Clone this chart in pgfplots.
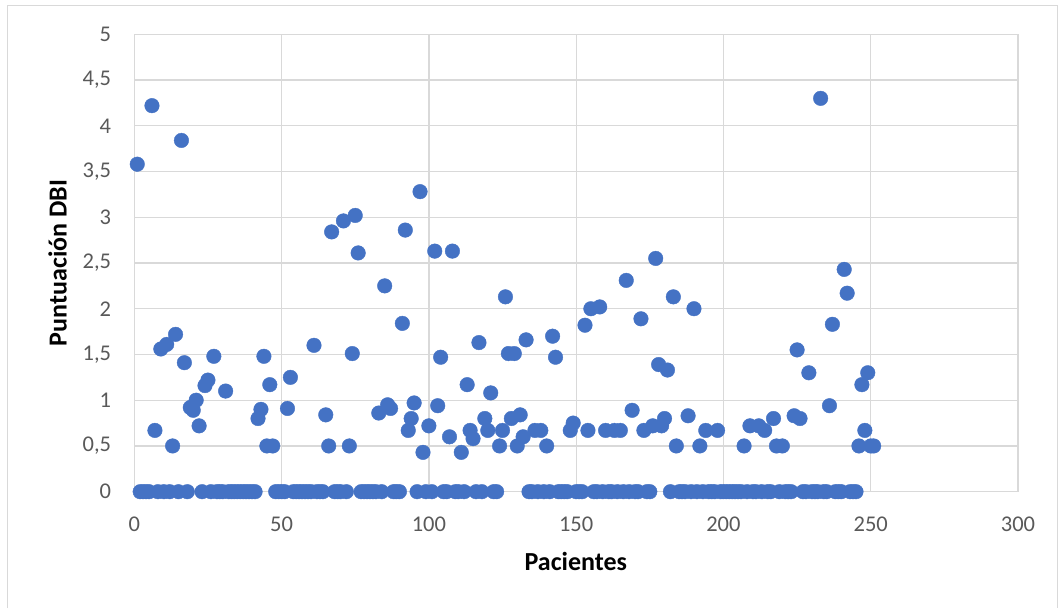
\documentclass[border=0pt]{standalone}
\usepackage{fontspec}
\setmainfont{Carlito}
\usepackage{pgfplots}
\pgfplotsset{compat=1.18}
\usepackage{pgfplotstable}
\definecolor{excelblue}{HTML}{4472C4}
\definecolor{gridgray}{HTML}{D9D9D9}
\definecolor{ticklabel}{HTML}{595959}
\pgfplotstableread{
x y
1 3.58
6 4.22
7 0.67
9 1.56
11 1.61
13 0.50
14 1.72
16 3.84
17 1.41
19 0.92
20 0.89
21 1.00
22 0.72
24 1.16
25 1.22
27 1.48
31 1.10
42 0.80
43 0.90
44 1.48
45 0.50
46 1.17
47 0.50
52 0.91
53 1.25
61 1.60
65 0.84
66 0.50
67 2.84
71 2.96
73 0.50
74 1.51
75 3.02
76 2.61
83 0.86
85 2.25
86 0.95
87 0.91
91 1.84
92 2.86
93 0.67
94 0.80
95 0.97
97 3.28
98 0.43
100 0.72
102 2.63
103 0.94
104 1.47
107 0.60
108 2.63
111 0.43
113 1.17
114 0.67
115 0.58
117 1.63
119 0.80
120 0.67
121 1.08
124 0.50
125 0.67
126 2.13
127 1.51
128 0.80
129 1.51
130 0.50
131 0.84
132 0.60
133 1.66
136 0.67
138 0.67
140 0.50
142 1.70
143 1.47
148 0.67
149 0.75
153 1.82
154 0.67
155 2.00
158 2.02
160 0.67
163 0.67
165 0.67
167 2.31
169 0.89
172 1.89
173 0.67
176 0.72
177 2.55
178 1.39
179 0.72
180 0.80
181 1.33
183 2.13
184 0.50
188 0.83
190 2.00
192 0.50
194 0.67
198 0.67
207 0.50
209 0.72
212 0.72
214 0.67
217 0.80
218 0.50
220 0.50
224 0.83
225 1.55
226 0.80
229 1.30
233 4.30
236 0.94
237 1.83
241 2.43
242 2.17
246 0.50
247 1.17
248 0.67
249 1.30
250 0.50
251 0.50
}\nonzero
\pgfplotstableread{
x y
2 0
3 0
4 0
5 0
8 0
10 0
12 0
15 0
18 0
23 0
26 0
28 0
29 0
30 0
32 0
33 0
34 0
35 0
36 0
37 0
38 0
39 0
40 0
41 0
48 0
49 0
50 0
51 0
54 0
55 0
56 0
57 0
58 0
59 0
60 0
62 0
63 0
64 0
68 0
69 0
70 0
72 0
77 0
78 0
79 0
80 0
81 0
82 0
84 0
88 0
89 0
90 0
96 0
99 0
101 0
105 0
106 0
109 0
110 0
112 0
116 0
118 0
122 0
123 0
134 0
135 0
137 0
139 0
141 0
144 0
145 0
146 0
147 0
150 0
151 0
152 0
156 0
157 0
159 0
161 0
162 0
164 0
166 0
168 0
170 0
171 0
174 0
175 0
182 0
185 0
186 0
187 0
189 0
191 0
193 0
195 0
196 0
197 0
199 0
200 0
201 0
202 0
203 0
204 0
205 0
206 0
208 0
210 0
211 0
213 0
215 0
216 0
219 0
221 0
222 0
223 0
227 0
228 0
230 0
231 0
232 0
234 0
235 0
238 0
239 0
240 0
243 0
244 0
245 0
}\zeros
\begin{document}
\begin{tikzpicture}
\path[use as bounding box] (0pt,0pt) rectangle (1059pt,608pt);
\draw[gridgray, line width=1.3pt] (7.5pt,0pt) -- (7.5pt,602.7pt) -- (1057.5pt,602.7pt) -- (1057.5pt,0pt);
\begin{axis}[
  at={(134.3pt,116.3pt)}, anchor=south west,
  scale only axis, width=883.7pt, height=457.4pt,
  xmin=0, xmax=300, ymin=0, ymax=5,
  xtick={0,50,...,300}, ytick={0,0.5,...,5},
  grid=major,
  major grid style={gridgray, line width=1.3pt},
  axis line style={draw=none},
  tick style={draw=none},
  /pgf/number format/assume math mode=true,
  /pgf/number format/use comma,
  tick label style={font=\fontsize{22.5}{27}\selectfont, text=ticklabel},
  yticklabel style={anchor=east, inner sep=0pt, xshift=-23pt},
  xticklabel style={anchor=north, inner sep=0pt, yshift=-25pt},
  clip=false,
]
\addplot[only marks, mark=*, mark size=7.3pt, color=excelblue, mark options={draw=excelblue, fill=excelblue}] table[x=x,y=y] {\zeros};
\addplot[only marks, mark=*, mark size=7.3pt, color=excelblue, mark options={draw=excelblue, fill=excelblue}] table[x=x,y=y] {\nonzero};
\end{axis}
\node[anchor=base, font=\fontsize{26}{30}\selectfont\bfseries] at (575.8pt,38pt) {Pacientes};
\node[anchor=base, rotate=90, font=\fontsize{26}{30}\selectfont\bfseries] at (66.7pt,345pt) {Puntuación DBI};
\end{tikzpicture}
\end{document}
